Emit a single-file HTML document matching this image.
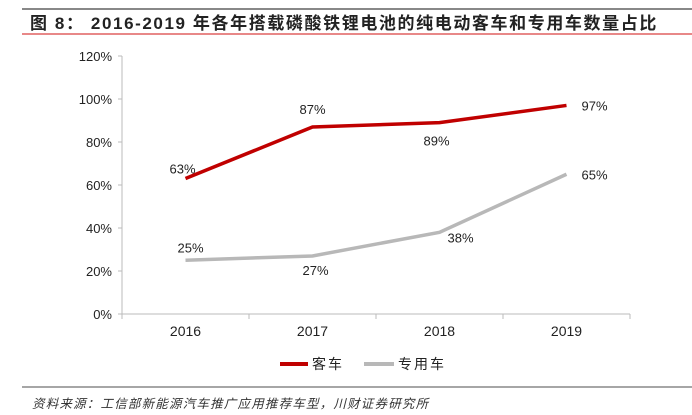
<!DOCTYPE html>
<html><head><meta charset="utf-8"><style>
body{margin:0;width:692px;height:415px;background:#fff;overflow:hidden;font-family:"Liberation Sans","Noto Sans CJK SC",sans-serif}
</style></head><body>
<svg width="692" height="415" style="position:absolute;left:0;top:0">
<line x1="22" y1="9" x2="692" y2="9" stroke="#888" stroke-width="2"/>
<text x="30" y="29" font-size="17" font-weight="bold" letter-spacing="1.6" fill="#222" font-family="Liberation Sans,Noto Sans CJK SC,sans-serif">图 8： 2016-2019 年各年搭载磷酸铁锂电池的纯电动客车和专用车数量占比</text>
<line x1="22" y1="34" x2="692" y2="34" stroke="#e06060" stroke-width="1.5"/>
<g id="axes"></g>
<g id="series"></g>
<g>
<line x1="280" y1="364" x2="308" y2="364" stroke="#c00000" stroke-width="4"/>
<text x="312" y="369" font-size="14" letter-spacing="2" fill="#222">客车</text>
<line x1="364" y1="364" x2="394" y2="364" stroke="#b8b8b8" stroke-width="4"/>
<text x="398" y="369" font-size="14" letter-spacing="2" fill="#222">专用车</text>
</g>
<line x1="22" y1="387" x2="692" y2="387" stroke="#888" stroke-width="1.5"/>
<text x="32" y="408" font-size="12.5" letter-spacing="1.2" font-style="italic" fill="#333">资料来源：工信部新能源汽车推广应用推荐车型，川财证券研究所</text>
</svg>
<script>
const categories=["2016","2017","2018","2019"];
const busValues=[63,87,89,97];
const specialValues=[25,27,38,65];
const yTicks=[0,20,40,60,80,100,120];
const NS="http://www.w3.org/2000/svg";
const x0=122,x1=630,y0=314,yTop=56;
const xs=i=>x0+(x1-x0)/categories.length*(i+0.5);
const ys=v=>y0-(y0-yTop)*v/120;
function mk(tag,attrs,parent){const e=document.createElementNS(NS,tag);for(const k in attrs)e.setAttribute(k,attrs[k]);parent.appendChild(e);return e;}
const ax=document.getElementById('axes');
let l=mk('line',{x1:x0,y1:y0,x2:x0,y2:yTop,stroke:'#bbb'},ax);


l=mk('line',{x1:x0,y1:y0,x2:x1,y2:y0,stroke:'#bbb'},ax);


yTicks.forEach(v=>{
 const t=mk('line',{x1:x0-4,y1:ys(v),x2:x0,y2:ys(v),stroke:'#bbb'},ax);
 
 
 const tx=mk('text',{x:x0-10,y:ys(v)+5,'text-anchor':'end','font-size':13,fill:'#222'},ax);
 tx.textContent=v+'%';
 
 
});
for(let i=0;i<=categories.length;i++){
 const xx=x0+(x1-x0)/categories.length*i;
 const t=mk('line',{x1:xx,y1:y0,x2:xx,y2:y0+5,stroke:'#bbb'},ax);
 
 
}
categories.forEach((c,i)=>{
 const tx=mk('text',{x:xs(i),y:y0+22,'text-anchor':'middle','font-size':14,fill:'#222'},ax);
 tx.textContent=c;
 
 
});
const sg=document.getElementById('series');
function draw(vals,color,name,offs){
 const p=mk('polyline',{points:vals.map((v,i)=>xs(i)+','+ys(v)).join(' '),fill:'none',stroke:color,'stroke-width':3.5},sg);
 
 
 vals.forEach((v,i)=>{
  const o=offs[i];
  const t=mk('text',{x:xs(i)+o[0],y:ys(v)+o[1],'text-anchor':'middle','font-size':13,fill:'#222'},sg);
  t.textContent=v+'%';
  
  
 });
}
draw(busValues,'#c00000','bus',[[-3,-5],[0,-13],[-3,23],[28,5]]);
draw(specialValues,'#b8b8b8','special',[[5,-8],[3,19],[21,10],[28,5]]);
</script>
</body></html>
